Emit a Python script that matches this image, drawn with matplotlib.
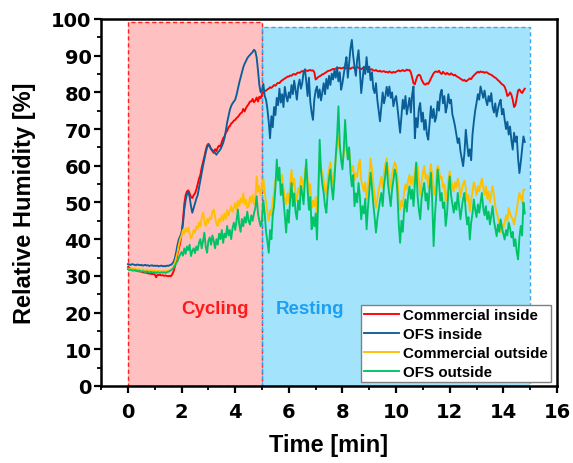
import numpy as np
import matplotlib
matplotlib.use("Agg")
import matplotlib.pyplot as plt
from matplotlib.patches import Rectangle

plt.rcParams['font.family'] = ['Liberation Sans', 'DejaVu Sans']
plt.rcParams['font.weight'] = 'bold'

# Sampling interval of the logger [min]
DT = 0.05

commercial_inside = [
    # 0-1 min
    32.4, 32.2, 32.0, 31.9, 31.8, 31.7, 31.6, 31.4, 31.3, 31.2, 31.1, 31.0, 30.9, 30.9, 30.8, 30.7, 30.6, 30.6, 30.5, 30.5,
    # 1-2
    30.4, 29.6, 30.3, 30.2, 30.3, 30.1, 30.2, 30.0, 30.1, 30.0, 29.9, 30.0, 29.9, 30.4, 31.2, 32.5, 34.0, 36.0, 37.5, 39.0,
    # 2-3
    41.5, 45.0, 49.5, 52.0, 53.0, 53.3, 52.5, 51.5, 51.2, 52.0, 52.5, 53.5, 55.0, 56.5, 57.5, 59.5, 61.0, 62.5, 64.2, 65.5,
    # 3-4
    66.0, 65.5, 64.5, 64.0, 63.5, 64.5, 64.0, 65.0, 65.5, 65.2, 66.5, 67.5, 68.0, 69.0, 69.5, 70.5, 70.8, 71.5, 71.8, 72.3,
    # 4-5
    72.5, 73.0, 73.3, 73.8, 74.3, 74.5, 75.5, 74.8, 75.7, 76.3, 76.8, 77.5, 77.5, 78.2, 77.3, 77.8, 78.6, 77.5, 78.8, 78.4,
    # 5-6
    79.5, 80.0, 80.3, 80.5, 80.8, 81.0, 81.4, 81.2, 81.6, 82.0, 81.8, 82.3, 82.6, 82.5, 83.0, 83.3, 83.5, 83.8, 84.0, 84.3,
    # 6-7
    84.3, 84.6, 84.5, 84.9, 85.0, 84.8, 85.2, 85.4, 85.3, 85.6, 85.8, 85.7, 85.9, 86.0, 85.8, 86.0, 86.1, 85.9, 86.0, 85.5,
    # 7-8
    83.5, 83.8, 84.2, 84.4, 84.6, 84.9, 85.0, 85.3, 85.5, 85.8, 85.9, 86.0, 86.2, 86.4, 86.3, 86.5, 86.4, 86.6, 86.7, 86.5,
    # 8-9
    86.6, 86.8, 86.5, 86.7, 86.9, 86.6, 86.4, 86.7, 86.8, 86.5, 86.6, 86.9, 86.7, 86.5, 86.3, 86.6, 86.8, 86.5, 86.4, 86.6,
    # 9-10
    86.4, 86.2, 86.3, 86.0, 85.9, 86.1, 85.8, 85.7, 85.9, 85.6, 85.7, 85.8, 85.5, 85.6, 85.4, 85.7, 85.5, 85.3, 85.6, 85.4,
    # 10-11
    85.6, 85.8, 86.0, 85.7, 85.9, 86.1, 85.8, 85.9, 86.2, 86.0, 86.1, 85.5, 84.0, 82.5, 82.2, 83.5, 84.5, 84.8, 84.6, 83.5,
    # 11-12
    82.8, 82.2, 82.1, 82.5, 82.3, 83.0, 83.8, 84.5, 85.2, 85.6, 85.7, 85.5, 85.9, 85.3, 85.0, 85.6, 85.2, 84.9, 85.3, 85.0,
    # 12-13
    84.8, 85.2, 84.9, 84.6, 84.8, 84.4, 84.2, 84.0, 83.7, 83.5, 83.2, 83.4, 83.0, 83.2, 83.5, 83.8, 83.6, 84.2, 84.6, 85.0,
    # 13-14
    85.3, 85.6, 85.4, 85.7, 85.5, 85.6, 85.3, 85.5, 85.4, 85.1, 84.9, 84.8, 84.5, 84.2, 84.0, 83.7, 83.3, 83.0, 82.6, 82.2,
    # 14-14.8
    82.0, 81.5, 80.5, 79.0, 79.3, 80.0, 79.4, 78.0, 76.0, 76.5, 78.5, 80.5, 80.8, 80.2, 79.8, 80.5, 81.0,
]

ofs_inside = [
    # 0-1
    33.2, 33.1, 33.0, 33.2, 33.1, 33.0, 32.9, 33.1, 33.0, 32.9, 33.0, 32.8, 32.9, 33.0, 32.8, 32.9, 32.7, 32.8, 32.9, 32.7,
    # 1-2
    32.8, 32.7, 32.8, 32.6, 32.7, 32.8, 32.6, 32.7, 32.6, 32.8, 32.7, 32.9, 33.0, 33.3, 33.8, 34.8, 36.5, 38.5, 40.0, 40.8,
    # 2-3
    41.8, 44.0, 48.0, 50.5, 52.3, 52.8, 51.5, 49.0, 47.2, 48.5, 49.8, 51.0, 52.0, 54.0, 56.0, 58.0, 60.0, 61.8, 63.5, 65.0,
    # 3-4
    65.8, 65.2, 64.6, 64.3, 63.8, 63.5, 63.0, 63.6, 64.0, 64.5, 65.3, 66.2, 67.5, 69.5, 71.8, 73.5, 75.2, 76.3, 77.0, 77.5,
    # 4-5
    78.0, 79.3, 81.0, 82.6, 84.0, 85.3, 86.8, 87.8, 88.5, 89.3, 89.8, 90.2, 90.6, 91.0, 91.6, 91.2, 89.5, 86.0, 82.0, 80.0,
    # 5-6
    80.5, 82.3, 79.0, 78.0, 75.5, 72.0, 67.5, 73.5, 70.5, 76.0, 73.8, 78.5, 76.5, 81.0, 77.2, 79.5, 76.0, 81.5, 79.0, 77.5,
    # 6-7
    80.0, 78.5, 82.0, 79.5, 83.2, 80.5, 78.0, 81.8, 83.5, 81.0, 82.5, 85.5, 86.3, 83.0, 79.0, 84.0, 77.5, 74.5, 72.5, 78.0,
    # 7-8
    80.5, 81.6, 78.5, 80.8, 77.8, 80.0, 82.5, 79.5, 83.7, 81.0, 84.5, 82.0, 85.1, 83.5, 86.0, 84.0, 86.9, 83.0, 85.5, 80.7,
    # 8-9
    82.5, 85.0, 87.5, 89.6, 84.0, 88.0, 92.0, 94.3, 90.0, 86.9, 84.5, 89.0, 91.5, 86.0, 79.8, 83.5, 87.0, 85.0, 89.6, 85.5,
    # 9-10
    87.0, 83.3, 85.5, 81.0, 79.8, 82.5, 78.0, 75.0, 72.1, 76.0, 80.0, 77.0, 78.9, 81.5, 79.0, 81.6, 78.5, 80.0, 76.2, 78.0,
    # 10-11
    79.0, 76.0, 72.5, 69.0, 73.5, 78.0, 75.5, 79.0, 74.0, 76.2, 78.5, 74.5, 79.5, 81.6, 67.5, 73.0, 70.5, 75.5, 77.1, 72.0,
    # 11-12
    74.5, 69.8, 72.5, 68.5, 67.1, 71.5, 76.2, 73.0, 75.5, 72.0, 73.4, 77.5, 75.0, 79.5, 80.7, 77.0, 79.0, 74.5, 76.2, 79.5,
    # 12-13
    77.0, 78.0, 74.0, 72.5, 70.7, 68.5, 66.2, 67.5, 64.0, 62.0, 59.9, 63.5, 69.8, 66.0, 62.6, 64.5, 61.5, 68.5, 72.0, 75.0,
    # 13-14
    77.1, 79.5, 78.0, 81.6, 80.0, 78.5, 80.5, 78.0, 76.5, 79.0, 77.5, 79.8, 76.0, 74.5, 77.0, 73.4, 75.5, 77.0, 78.0, 74.0,
    # 14-14.8
    75.5, 72.5, 70.0, 72.0, 68.5, 70.7, 67.0, 64.4, 69.0, 66.5, 68.0, 62.0, 58.0, 61.0, 64.5, 68.0, 66.5,
]

commercial_outside = [
    # 0-1
    32.0, 31.8, 32.1, 31.9, 31.7, 32.0, 31.8, 31.6, 31.9, 31.7, 31.5, 31.8, 31.6, 31.4, 31.7, 31.5, 31.3, 31.6, 31.4, 31.3,
    # 1-2
    31.5, 31.3, 31.2, 31.4, 31.2, 31.3, 31.1, 31.3, 31.2, 31.4, 31.3, 31.5, 31.6, 31.9, 32.5, 33.5, 35.0, 36.5, 38.5, 40.0,
    # 2-3
    41.0, 42.5, 41.5, 43.0, 42.0, 43.2, 41.5, 40.2, 41.0, 42.5, 41.8, 43.5, 42.8, 44.5, 43.5, 45.8, 47.2, 45.0, 43.6, 45.5,
    # 3-4
    44.5, 46.0, 45.4, 47.5, 48.1, 46.0, 44.0, 43.6, 45.5, 44.8, 46.5, 45.0, 47.0, 45.5, 48.0, 46.5, 47.8, 49.0, 47.5, 48.5,
    # 4-5
    49.9, 48.0, 50.5, 49.0, 51.0, 50.0, 52.5, 49.5, 50.8, 48.5, 49.0, 51.5, 50.0, 52.0, 49.5, 51.0, 57.1, 53.0, 54.5, 52.0,
    # 5-6
    54.0, 56.5, 53.0, 50.0, 47.5, 45.0, 48.0, 46.5, 50.5, 53.0, 56.0, 58.0, 59.5, 57.0, 55.5, 57.5, 54.0, 51.0, 49.5, 52.5,
    # 6-7
    50.0, 55.0, 58.9, 54.5, 56.5, 52.0, 50.5, 54.0, 52.5, 57.0, 56.0, 53.5, 58.5, 60.5, 56.5, 52.0, 55.0, 48.5, 50.5, 49.0,
    # 7-8
    51.5, 47.0, 55.0, 62.0, 59.5, 58.0, 56.0, 53.5, 52.0, 56.5, 59.0, 61.0, 57.5, 55.0, 58.5, 62.0, 65.0, 68.0, 64.0, 62.5,
    # 8-9
    61.0, 63.5, 66.5, 64.0, 62.5, 64.0, 60.5, 58.5, 60.0, 56.0, 58.0, 57.0, 60.0, 61.7, 56.0, 54.5, 53.0, 55.5, 51.0, 54.0,
    # 9-10
    57.5, 62.0, 59.0, 55.0, 52.0, 48.5, 51.0, 53.5, 55.0, 57.0, 54.0, 58.0, 60.5, 62.0, 59.0, 56.5, 54.0, 57.5, 59.5, 61.0,
    # 10-11
    60.0, 57.0, 51.0, 48.0, 50.5, 49.0, 53.0, 55.0, 53.5, 56.0, 57.5, 55.0, 57.0, 54.5, 58.0, 61.0, 59.9, 56.0, 52.0, 55.5,
    # 11-12
    58.0, 60.0, 56.5, 57.5, 54.0, 58.0, 60.5, 57.0, 52.0, 53.5, 56.5, 60.0, 59.0, 56.5, 57.0, 54.0, 55.0, 50.5, 52.0, 56.0,
    # 12-13
    58.5, 56.0, 54.5, 53.0, 55.5, 54.0, 56.5, 55.0, 51.5, 53.5, 55.0, 56.0, 54.0, 50.5, 52.0, 47.5, 50.5, 53.0, 55.5, 54.0,
    # 13-14
    52.0, 54.5, 53.0, 55.0, 56.5, 54.0, 52.0, 54.5, 51.0, 53.0, 50.0, 52.5, 54.5, 52.0, 49.0, 47.2, 46.0, 44.5, 41.8, 44.0,
    # 14-14.8
    43.0, 44.5, 46.5, 45.0, 48.5, 47.0, 46.0, 45.5, 44.0, 46.0, 48.0, 50.5, 52.6, 51.5, 50.0, 53.5, 53.5,
]

ofs_outside = [
    # 0-1
    31.8, 31.6, 31.7, 31.5, 31.4, 31.6, 31.3, 31.5, 31.2, 31.4, 31.1, 31.3, 31.2, 31.0, 31.2, 31.1, 30.9, 31.1, 31.0, 30.9,
    # 1-2
    31.0, 30.8, 31.0, 30.9, 30.8, 31.0, 30.9, 31.0, 30.8, 31.0, 31.1, 31.3, 31.5, 31.8, 32.2, 32.8, 33.5, 34.0, 35.0, 35.8,
    # 2-3
    36.5, 35.5, 37.5, 36.0, 38.0, 37.0, 38.5, 35.4, 36.8, 37.5, 36.2, 38.0, 37.0, 39.0, 40.0, 37.5, 39.5, 41.8, 38.0, 36.3,
    # 3-4
    39.5, 40.5, 38.5, 41.0, 39.5, 37.5, 40.0, 38.5, 41.5, 40.0, 42.5, 39.0, 41.5, 40.5, 43.6, 41.0, 42.5, 40.0, 43.0, 44.5,
    # 4-5
    42.5, 45.0, 48.1, 44.0, 42.0, 45.5, 43.5, 46.0, 44.5, 47.5, 45.0, 44.0, 46.5, 45.0, 47.0, 48.5, 51.7, 47.0, 45.0, 43.5,
    # 5-6
    45.4, 50.5, 47.0, 42.0, 39.5, 36.3, 42.5, 40.0, 46.5, 49.0, 54.0, 61.7, 56.0, 59.5, 52.0, 55.0, 50.8, 46.5, 41.8, 48.0,
    # 6-7
    44.5, 51.0, 55.3, 49.0, 52.5, 47.5, 45.4, 50.5, 48.0, 54.5, 52.6, 49.5, 56.0, 61.7, 53.5, 48.0, 51.5, 42.7, 46.0, 43.5,
    # 7-8
    47.0, 39.9, 52.0, 67.1, 58.5, 55.0, 52.6, 49.0, 47.2, 53.0, 56.5, 59.0, 54.0, 50.8, 56.0, 62.5, 68.0, 76.2, 66.0, 61.5,
    # 8-9
    59.0, 64.5, 72.5, 66.0, 61.7, 65.0, 58.0, 54.4, 57.5, 49.0, 52.5, 50.0, 55.3, 51.5, 45.4, 49.0, 47.0, 51.0, 42.7, 48.5,
    # 9-10
    53.0, 58.1, 54.0, 49.5, 46.0, 41.8, 45.5, 48.0, 50.5, 52.6, 49.0, 54.5, 57.5, 60.8, 55.0, 52.0, 49.0, 53.5, 56.0, 59.0,
    # 10-11
    57.5, 52.6, 44.0, 39.0, 45.0, 42.0, 48.0, 50.8, 47.5, 52.0, 54.4, 51.0, 53.5, 49.0, 55.0, 60.8, 52.0, 48.0, 45.4, 51.0,
    # 11-12
    53.5, 55.3, 50.5, 52.5, 48.1, 54.0, 58.1, 50.0, 38.1, 46.5, 52.0, 59.0, 55.5, 50.5, 52.6, 48.5, 50.0, 43.6, 47.0, 53.0,
    # 12-13
    57.1, 52.0, 49.5, 47.2, 50.0, 48.0, 52.6, 49.0, 45.4, 48.5, 51.0, 52.6, 47.5, 44.0, 46.0, 39.9, 44.5, 47.0, 50.8, 48.0,
    # 13-14
    46.0, 49.5, 47.2, 50.0, 52.6, 48.5, 46.5, 49.0, 45.4, 47.5, 44.0, 46.5, 49.0, 45.0, 43.0, 40.8, 44.0, 42.0, 45.4, 43.0,
    # 14-14.8
    41.5, 39.9, 42.5, 41.0, 44.5, 43.0, 40.5, 42.0, 38.1, 40.0, 36.5, 34.5, 40.5, 43.6, 41.0, 50.0, 47.0,
]

series = [
    ("Commercial inside", commercial_inside, "#ff0000"),
    ("OFS inside", ofs_inside, "#0b5f98"),
    ("Commercial outside", commercial_outside, "#ffc000"),
    ("OFS outside", ofs_outside, "#00c366"),
]

# Phases of the experiment [min]: start, end, box height
cycling_phase = (0.0, 5.0, 99.2)
resting_phase = (5.0, 15.0, 97.8)

fig = plt.figure(figsize=(5.73, 4.64), dpi=100)
ax = fig.add_axes([0.1765, 0.166, 0.7955, 0.791])

x0, x1, h = cycling_phase
ax.add_patch(Rectangle((x0, 0), x1 - x0, h, facecolor="#ffc0c2", edgecolor="none", zorder=0))
ax.add_patch(Rectangle((x0, 0), x1 - x0, h, facecolor="none", edgecolor="#ff2020",
                       linestyle=(0, (3, 2)), linewidth=1.0, zorder=1))
x0, x1, h = resting_phase
ax.add_patch(Rectangle((x0, 0), x1 - x0, h, facecolor="#a3e4fc", edgecolor="none", zorder=0))
ax.add_patch(Rectangle((x0, 0), x1 - x0, h, facecolor="none", edgecolor="#3aa6ee",
                       linestyle=(0, (3, 2)), linewidth=1.0, zorder=1))

for label, vals, color in series:
    t = np.arange(len(vals)) * DT
    ax.plot(t, vals, color=color, lw=1.35, label=label, zorder=3)

ax.text(1.97, 21.0, "Cycling", color="#ff1a1a", fontsize=13.5, fontweight="bold", va="center", ha="left", zorder=4)
ax.text(5.5, 21.0, "Resting", color="#1e9ff2", fontsize=13.5, fontweight="bold", va="center", ha="left", zorder=4)

ax.set_xlim(-1, 16)
ax.set_ylim(0, 100)
ax.set_xticks(np.arange(0, 17, 2))
ax.set_xticks(np.arange(-1, 16, 1), minor=True)
ax.set_yticks(np.arange(0, 101, 10))
ax.set_yticks(np.arange(0, 101, 5), minor=True)
ax.tick_params(axis="both", which="major", direction="out", length=5, width=1.6,
               top=False, right=False)
ax.tick_params(axis="both", which="minor", direction="out", length=3, width=1.3,
               top=False, right=False)
ax.tick_params(axis="x", which="major", pad=6.5)
ax.tick_params(axis="y", which="major", pad=2)
for lab in ax.get_xticklabels() + ax.get_yticklabels():
    lab.set_fontfamily("DejaVu Sans")
    lab.set_fontweight("bold")
    lab.set_fontsize(14)
for sp in ax.spines.values():
    sp.set_linewidth(1.8)

ax.set_xlabel("Time [min]", fontsize=17, fontweight="bold", labelpad=9)
ax.set_ylabel("Relative Humidity [%]", fontsize=17, fontweight="bold", labelpad=10.5)

leg = ax.legend(loc="lower right", bbox_to_anchor=(0.9935, 0.003), fontsize=10.9, frameon=True,
                fancybox=False, edgecolor="#808080", framealpha=1.0, handlelength=2.3,
                handletextpad=0.3, borderpad=0.2, labelspacing=0.32, borderaxespad=0.2)
leg.get_frame().set_linewidth(1.0)
for txt in leg.get_texts():
    txt.set_fontweight("bold")
leg.set_zorder(5)

fig.savefig("out.png", dpi=100)
